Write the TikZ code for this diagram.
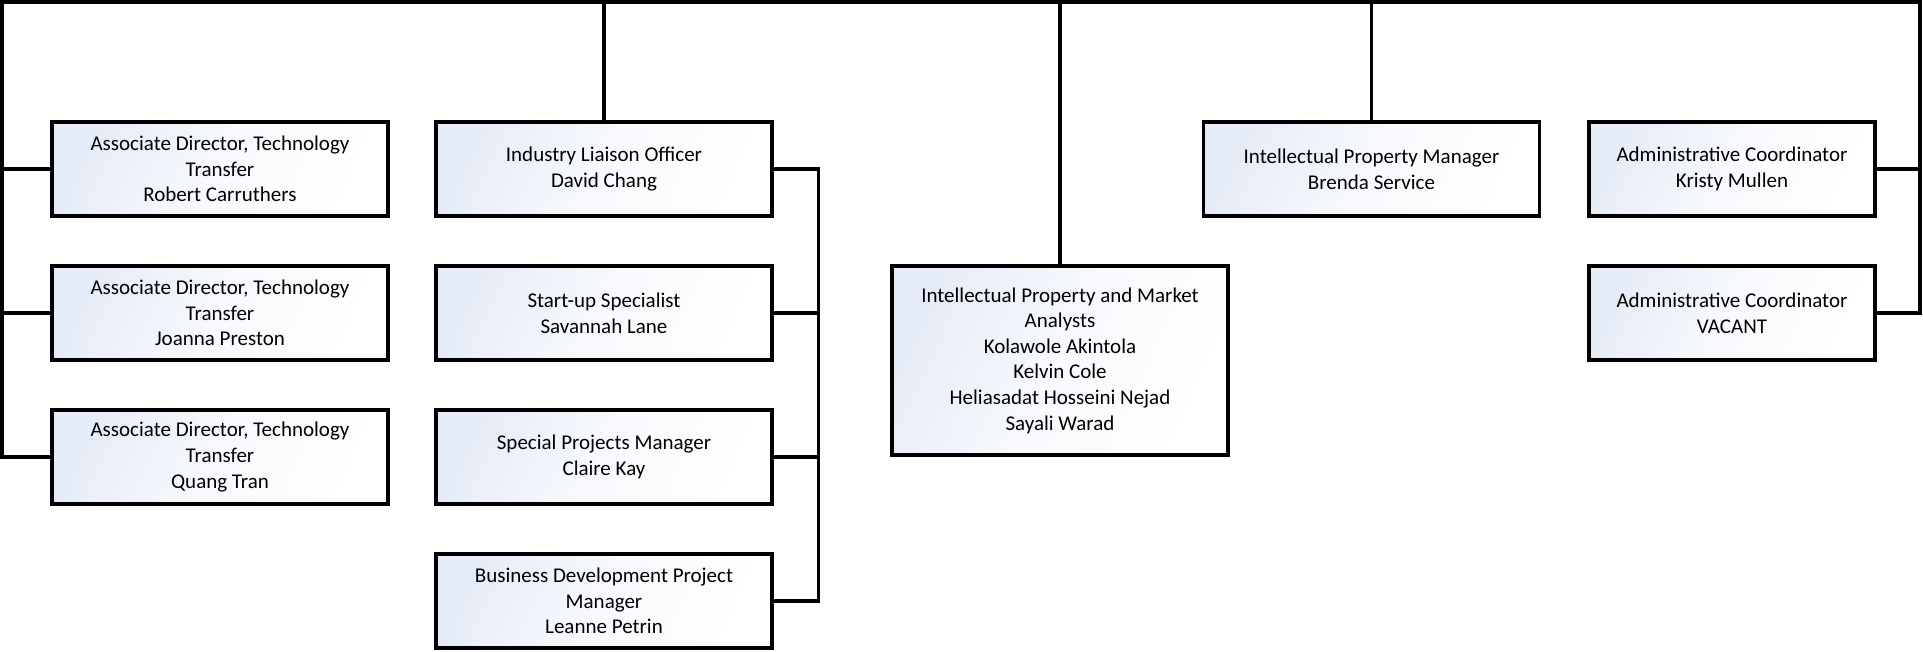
\documentclass[tikz,border=0pt]{standalone}
\usepackage{fontspec}
\setmainfont{Carlito}
\definecolor{boxblue}{RGB}{230,236,247}
\begin{document}
\begin{tikzpicture}[x=1pt,y=-1pt,
  orgbox/.style={draw=black, line width=3.5pt, rectangle, minimum width=336pt,
    minimum height=94pt, inner sep=0pt, align=center,
    font=\fontsize{21}{25.6}\selectfont,
    top color=boxblue, bottom color=white, middle color=boxblue!30!white, shading angle=65},
  narrow/.style={minimum width=286pt},
  conn/.style={draw=black, line width=3.5pt}]
\useasboundingbox (0,0) rectangle (1923,651);
% column 1
\node[orgbox] (ad1) at (220,169) {Associate Director, Technology\\Transfer\\Robert Carruthers};
\node[orgbox] (ad2) at (220,313) {Associate Director, Technology\\Transfer\\Joanna Preston};
\node[orgbox] (ad3) at (220,457) {Associate Director, Technology\\Transfer\\Quang Tran};
% column 2
\node[orgbox] (ilo) at (604,169) {Industry Liaison Officer\\David Chang};
\node[orgbox] (su) at (604,313) {Start-up Specialist\\Savannah Lane};
\node[orgbox] (sp) at (604,457) {Special Projects Manager\\Claire Kay};
\node[orgbox] (bd) at (604,601) {Business Development Project\\Manager\\Leanne Petrin};
% column 3
\node[orgbox, minimum height=189pt] (ipa) at (1060,360.5) {Intellectual Property and Market\\Analysts\\Kolawole Akintola\\Kelvin Cole\\Heliasadat Hosseini Nejad\\Sayali Warad};
% column 4
\node[orgbox] (ipm) at (1371.5,169) {Intellectual Property Manager\\Brenda Service};
% column 5
\node[orgbox, narrow] (ac1) at (1732,169) {Administrative Coordinator\\Kristy Mullen};
\node[orgbox, narrow] (ac2) at (1732,313) {Administrative Coordinator\\VACANT};
% connectors
\coordinate (tl) at (2,1.75);
\coordinate (tr) at (1920,1.75);
\coordinate (c2) at (818.5,169);
\draw[conn] (ad3.west) -| (tl) -- (tr) |- (ac2.east);
\draw[conn] (ad1.west) -- (ad1.west -| tl);
\draw[conn] (ad2.west) -- (ad2.west -| tl);
\draw[conn] (ac1.east) -- (ac1.east -| tr);
\draw[conn] (ilo.north) -- (ilo.north |- tl);
\draw[conn] (ipa.north) -- (ipa.north |- tl);
\draw[conn] (ipm.north) -- (ipm.north |- tl);
\draw[conn] (ilo.east) -- (c2) |- (bd.east);
\draw[conn] (su.east) -- (su.east -| c2);
\draw[conn] (sp.east) -- (sp.east -| c2);
\end{tikzpicture}
\end{document}
